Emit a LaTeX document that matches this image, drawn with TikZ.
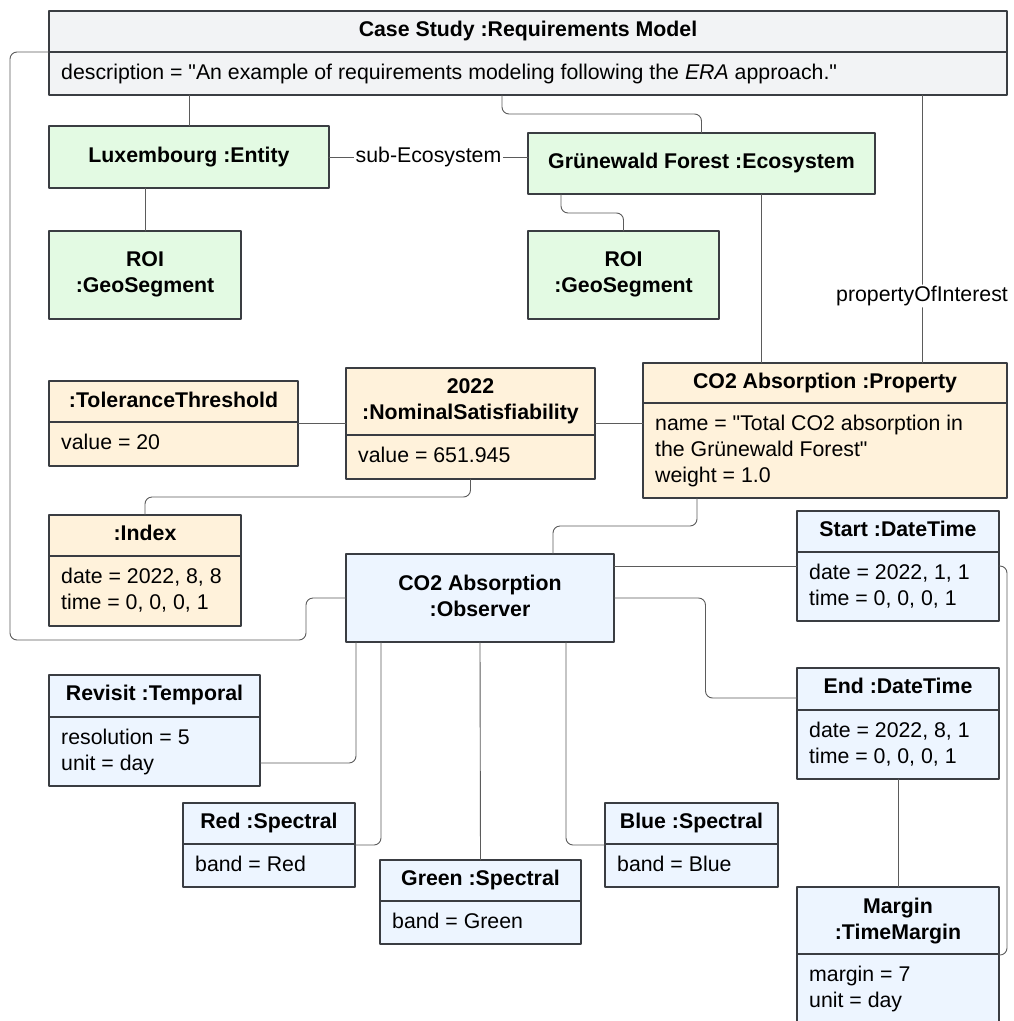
\documentclass[tikz,border=0pt]{standalone}
\usepackage{fontspec}
\setmainfont{Liberation Sans}
\usetikzlibrary{calc,positioning,fit}

\begin{document}
\begin{tikzpicture}[x=1pt, y=-1pt, line join=round, line cap=round,
		obj/.style={draw=objline, line width=1.3pt, inner sep=0pt, outer sep=0pt},
		divline/.style={draw=objline, line width=1.3pt},
		conn/.style={draw=connline, line width=0.9pt, rounded corners=7pt},
		ttl/.style={font=\fontsize{21.3}{26}\selectfont\bfseries, align=center, inner sep=0pt},
		attr/.style={font=\fontsize{21.3}{26}\selectfont, align=left, anchor=north west, inner sep=0pt},
		lbl/.style={font=\fontsize{21.3}{26}\selectfont, fill=white, inner sep=1.5pt}]
		
		% Custom colours
		\definecolor{objline}{HTML}{3A3D42}
		\definecolor{connline}{HTML}{5B5B5B}
		\definecolor{grayfill}{HTML}{F2F3F5}
		\definecolor{greenfill}{HTML}{E3FAE3}
		\definecolor{orangefill}{HTML}{FFF2DB}
		\definecolor{bluefill}{HTML}{EDF5FF}
		
		% Canvas
		\useasboundingbox (0,0) rectangle (1013,1021);
		
		% 1. Requirements model
		\node[obj, fill=grayfill, fit={(49,11) (1007,95)}] (case) {};
		\draw[divline] ($(case.north west)+(0,41)$) -- ($(case.north east)+(0,41)$);
		\node[ttl, below=10pt of case.north] (caseT) {Case Study :Requirements Model};
		\node[attr] (caseA) at (61,63.5) {description = \textquotedbl An example of requirements modeling following the \textit{ERA} approach.\textquotedbl};
		
		% 2. Entity, ecosystem and geo segments
		\node[obj, fill=greenfill, fit={(49,126) (329,188)}] (lux) {};
		\node[ttl, below=20.5pt of lux.north] (luxT) {Luxembourg :Entity};
		\node[obj, fill=greenfill, fit={(528,133) (875,194)}] (eco) {};
		\node[ttl, below=20pt of eco.north] (ecoT) {Grünewald Forest :Ecosystem};
		\node[obj, fill=greenfill, fit={(49,231) (241,319)}] (roiA) {};
		\node[ttl, below=20.8pt of roiA.north] (roiAT) {ROI\\:GeoSegment};
		\node[obj, fill=greenfill, fit={(528,231) (719,319)}] (roiB) {};
		\node[ttl, below=20.8pt of roiB.north] (roiBT) {ROI\\:GeoSegment};
		
		% 3. Property and satisfiability
		\node[obj, fill=orangefill, fit={(49,381) (298,466)}] (tol) {};
		\draw[divline] ($(tol.north west)+(0,41)$) -- ($(tol.north east)+(0,41)$);
		\node[ttl, below=11pt of tol.north] (tolT) {:ToleranceThreshold};
		\node[attr] (tolA) at (61,433.5) {value = 20};
		
		\node[obj, fill=orangefill, fit={(346,368) (595,479)}] (nom) {};
		\draw[divline] ($(nom.north west)+(0,67)$) -- ($(nom.north east)+(0,67)$);
		\node[ttl, below=10.5pt of nom.north] (nomT) {2022\\:NominalSatisfiability};
		\node[attr] (nomA) at (358,446.5) {value = 651.945};
		
		\node[obj, fill=orangefill, fit={(643,363) (1007,498)}] (prop) {};
		\draw[divline] ($(prop.north west)+(0,40)$) -- ($(prop.north east)+(0,40)$);
		\node[ttl, below=10pt of prop.north] (propT) {CO2 Absorption :Property};
		\node[attr] (propA) at (655,414.5) {name = \textquotedbl Total CO2 absorption in\\the Grünewald Forest\textquotedbl\\weight = 1.0};
		
		\node[obj, fill=orangefill, fit={(49,515) (241,626)}] (idx) {};
		\draw[divline] ($(idx.north west)+(0,41)$) -- ($(idx.north east)+(0,41)$);
		\node[ttl, below=10pt of idx.north] (idxT) {:Index};
		\node[attr] (idxA) at (61,567.5) {date = 2022, 8, 8\\time = 0, 0, 0, 1};
		
		% 4. Observer and its parts
		\node[obj, fill=bluefill, fit={(346,554) (614,642)}] (obs) {};
		\node[ttl, below=21pt of obs.north] (obsT) {CO2 Absorption\\:Observer};
		
		\node[obj, fill=bluefill, fit={(797,511) (999,621)}] (start) {};
		\draw[divline] ($(start.north west)+(0,41)$) -- ($(start.north east)+(0,41)$);
		\node[ttl, below=9.5pt of start.north] (startT) {Start :DateTime};
		\node[attr] (startA) at (809,563.5) {date = 2022, 1, 1\\time = 0, 0, 0, 1};
		
		\node[obj, fill=bluefill, fit={(797,668) (999,779)}] (end) {};
		\draw[divline] ($(end.north west)+(0,42)$) -- ($(end.north east)+(0,42)$);
		\node[ttl, below=10pt of end.north] (endT) {End :DateTime};
		\node[attr] (endA) at (809,721.5) {date = 2022, 8, 1\\time = 0, 0, 0, 1};
		
		\node[obj, fill=bluefill, fit={(797,887) (999,1040)}] (marg) {};
		\draw[divline] ($(marg.north west)+(0,67)$) -- ($(marg.north east)+(0,67)$);
		\node[ttl, below=10.5pt of marg.north] (margT) {Margin\\:TimeMargin};
		\node[attr] (margA) at (809,965.5) {margin = 7\\unit = day};
		
		\node[obj, fill=bluefill, fit={(49,675) (260,786)}] (rev) {};
		\draw[divline] ($(rev.north west)+(0,42)$) -- ($(rev.north east)+(0,42)$);
		\node[ttl, below=10pt of rev.north] (revT) {Revisit :Temporal};
		\node[attr] (revA) at (61,728.5) {resolution = 5\\unit = day};
		
		\node[obj, fill=bluefill, fit={(183,803) (355,887)}] (red) {};
		\draw[divline] ($(red.north west)+(0,41)$) -- ($(red.north east)+(0,41)$);
		\node[ttl, below=9.5pt of red.north] (redT) {Red :Spectral};
		\node[attr] (redA) at (195,855.5) {band = Red};
		
		\node[obj, fill=bluefill, fit={(380,860) (581,944)}] (green) {};
		\draw[divline] ($(green.north west)+(0,41)$) -- ($(green.north east)+(0,41)$);
		\node[ttl, below=9.5pt of green.north] (greenT) {Green :Spectral};
		\node[attr] (greenA) at (392,912.5) {band = Green};
		
		\node[obj, fill=bluefill, fit={(605,803) (778,887)}] (blue) {};
		\draw[divline] ($(blue.north west)+(0,41)$) -- ($(blue.north east)+(0,41)$);
		\node[ttl, below=9.5pt of blue.north] (blueT) {Blue :Spectral};
		\node[attr] (blueA) at (617,855.5) {band = Blue};
		
		% 5. Connectors from the model
		\coordinate (caseL) at ($(case.north west)+(0,41)$);
		\coordinate (loopA) at (10,640);
		\coordinate (loopB) at (306,640);
		\draw[conn] (case.south -| lux.north) -- (lux.north);
		\draw[conn] ($(case.south west)+(453,0)$) -- ++(0,19) -| (eco.north);
		\draw[conn] ($(case.south east)+(-85,0)$) -- ($(prop.north east)+(-85,0)$)
		node[lbl, pos=0.75] (poi) {propertyOfInterest};
		\draw[conn] (caseL) -| (loopA) -- (loopB) |- (obs.west);
		
		% 6. Entity and ecosystem links
		\draw[conn] (lux.east) -- (lux.east -| eco.west)
		node[lbl, midway] (subeco) {sub-Ecosystem};
		\draw[conn] (lux.south -| roiA.north) -- (roiA.north);
		\draw[conn] ($(eco.south west)+(33,0)$) -- ++(0,19) -| (roiB.north);
		\coordinate (ecoP) at ($(eco.south west)+(233,0)$);
		\draw[conn] (ecoP) -- (ecoP |- prop.north);
		
		% 7. Property links
		\draw[conn] (tol.east) -- (tol.east -| nom.west);
		\draw[conn] (nom.east) -- (nom.east -| prop.west);
		\draw[conn] (nom.south) -- ++(0,18) -| (idx.north);
		\draw[conn] ($(prop.south west)+(54,0)$) -- ++(0,28) -| ($(obs.north west)+(207,0)$);
		
		% 8. Observer links
		\coordinate (endW) at ($(end.north west)+(0,30)$);
		\coordinate (margE) at ($(marg.north east)+(0,68)$);
		\coordinate (revE) at ($(rev.south east)+(0,-23)$);
		\draw[conn] (obs.east |- start.west) -- (start.west);
		\draw[conn] (obs.east) -| ($(obs.east)!.5!(endW)$) |- (endW);
		\draw[conn] (end.south) -- (marg.north);
		\draw[conn] (start.east) -- ++(8,0) |- (margE);
		\draw[conn] ($(obs.south west)+(10,0)$) |- (revE);
		\draw[conn] ($(obs.south west)+(35,0)$) |- (red.east);
		\draw[conn] (obs.south) -- (green.north);
		\draw[conn] ($(obs.south west)+(220,0)$) |- (blue.west);
		
	\end{tikzpicture}
\end{document}
